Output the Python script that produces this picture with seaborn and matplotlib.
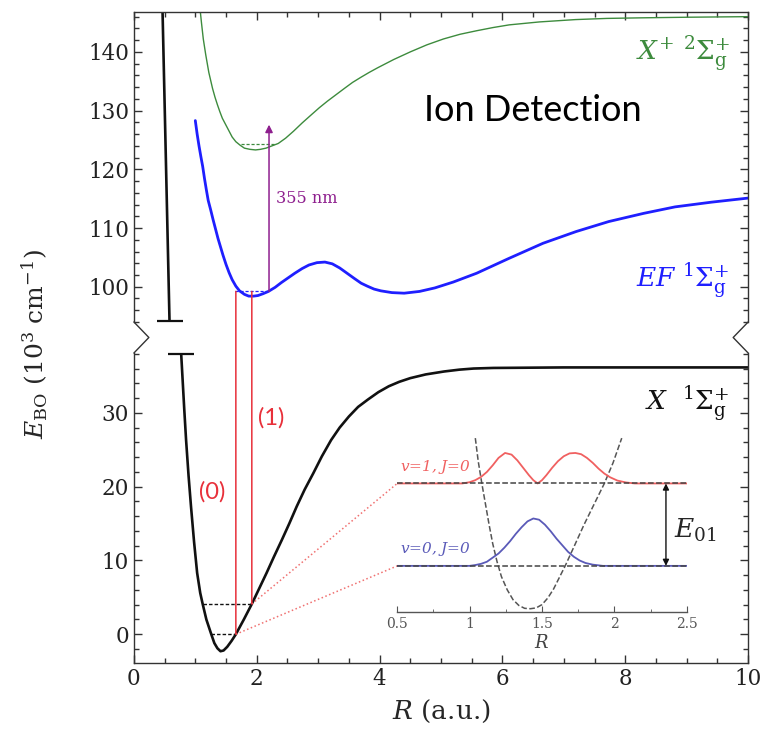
import numpy as np
import pandas as pd
import matplotlib
matplotlib.use("Agg")
import matplotlib.pyplot as plt
import seaborn as sns
from matplotlib.lines import Line2D
from matplotlib.patches import ConnectionPatch
from matplotlib.ticker import MultipleLocator

# --- potential curves (R in a.u., E in 10^3 cm^-1) ---
x_R = [0.77, 0.79, 0.82, 0.85, 0.89, 0.93, 0.98, 1.03, 1.08, 1.12, 1.18, 1.26, 1.31, 1.36,
       1.41, 1.46, 1.52, 1.59, 1.66, 1.79, 1.92, 2.04, 2.16, 2.28, 2.41, 2.53, 2.65, 2.78,
       2.92, 3.06, 3.21, 3.35, 3.50, 3.65, 3.81, 3.98, 4.15, 4.32, 4.50, 4.75, 5.05, 5.30,
       5.53, 5.85, 6.20, 7.00, 10.0]
x_E = [38.0, 35.0, 30.5, 26.3, 21.5, 17.3, 12.5, 8.3, 5.6, 4.1, 2.0, 0.0, -1.2, -1.9,
       -2.3, -2.2, -1.7, -0.9, 0.0, 2.0, 4.1, 6.2, 8.3, 10.5, 12.8, 15.0, 17.3, 19.6,
       21.8, 24.1, 26.3, 28.0, 29.5, 30.8, 31.8, 32.8, 33.6, 34.2, 34.7, 35.2, 35.6, 35.85,
       36.0, 36.08, 36.1, 36.15, 36.15]
wall_R = [0.46, 0.58]
wall_E = [150.0, 94.2]

ef_R = [1.00, 1.03, 1.06, 1.09, 1.12, 1.15, 1.18, 1.21, 1.25, 1.29, 1.33, 1.37, 1.41, 1.45,
        1.50, 1.55, 1.60, 1.66, 1.72, 1.80, 1.87, 1.95, 2.02, 2.10, 2.19, 2.30, 2.40, 2.51,
        2.62, 2.74, 2.85, 2.98, 3.11, 3.23, 3.35, 3.47, 3.59, 3.70, 3.80, 3.91, 4.02, 4.20,
        4.40, 4.65, 4.90, 5.20, 5.58, 6.10, 6.66, 7.20, 7.73, 8.30, 8.81, 9.40, 10.0]
ef_E = [128.3, 126.0, 124.0, 122.2, 120.5, 118.4, 116.5, 114.7, 113.1, 111.4, 109.8, 108.2,
        106.8, 105.4, 103.8, 102.4, 101.2, 100.1, 99.3, 98.7, 98.4, 98.4, 98.5, 98.8, 99.2,
        99.9, 100.7, 101.5, 102.3, 103.1, 103.7, 104.1, 104.2, 103.9, 103.2, 102.3, 101.4,
        100.6, 100.1, 99.6, 99.3, 99.0, 98.9, 99.2, 99.8, 100.8, 102.3, 104.8, 107.4, 109.4,
        111.1, 112.5, 113.6, 114.4, 115.1]

ion_R = [1.07, 1.10, 1.13, 1.17, 1.22, 1.28, 1.32, 1.36, 1.40, 1.44, 1.50, 1.55, 1.60, 1.66,
         1.73, 1.80, 1.89, 1.98, 2.06, 2.15, 2.25, 2.35, 2.47, 2.60, 2.74, 2.89, 3.02, 3.15,
         3.29, 3.43, 3.56, 3.70, 3.83, 3.97, 4.23, 4.50, 4.77, 5.04, 5.31, 5.58, 5.85, 6.11,
         6.60, 7.19, 7.70, 8.27, 9.00, 10.0]
ion_E = [148.0, 145.0, 142.2, 139.5, 136.5, 133.8, 132.3, 131.0, 129.8, 128.7, 127.5, 126.5,
         125.5, 124.7, 124.1, 123.6, 123.4, 123.3, 123.4, 123.6, 124.0, 124.4, 125.3, 126.5,
         127.9, 129.3, 130.5, 131.6, 132.7, 133.8, 134.8, 135.7, 136.5, 137.3, 138.7, 140.0,
         141.2, 142.2, 143.0, 143.6, 144.15, 144.6, 145.1, 145.5, 145.7, 145.8, 145.9, 146.0]

# vibrational levels
x_lvl_E = [0.0, 4.1]
x_lvl_R0 = [1.26, 1.12]
x_lvl_R1 = [1.66, 1.92]
ef_lvl = (1.65, 2.19, 99.2)
ion_lvl = (1.74, 2.30, 124.3)

# excitation lines (0) and (1), ionisation arrow
exc_R = [1.66, 1.92]
exc_E = [0.0, 4.1]
ion_arrow = (2.20, 99.2, 127.6)

# zoom guide lines to the inset
guide_end_R = 4.29
guide_end_E = [9.27, 20.45]

# --- inset: model potential and wavefunctions ---
pot_R = [1.04, 1.06, 1.085, 1.11, 1.135, 1.16, 1.19, 1.22, 1.26, 1.30, 1.34, 1.38, 1.42,
         1.46, 1.50, 1.54, 1.58, 1.62, 1.66, 1.72, 1.79, 1.86, 1.93, 1.99, 2.05]
pot_y = [1.55, 1.27, 1.00, 0.75, 0.50, 0.27, 0.05, -0.13, -0.29, -0.41, -0.48, -0.515, -0.52,
         -0.51, -0.47, -0.39, -0.28, -0.14, 0.00, 0.23, 0.50, 0.75, 1.00, 1.25, 1.55]
v0_R = [0.50, 1.00, 1.04, 1.08, 1.12, 1.16, 1.20, 1.24, 1.28, 1.32, 1.36, 1.40, 1.44, 1.48,
        1.52, 1.56, 1.60, 1.64, 1.68, 1.72, 1.76, 1.80, 1.85, 1.92, 2.50]
v0_y = [0.0, 0.0, 0.01, 0.025, 0.05, 0.10, 0.15, 0.22, 0.30, 0.39, 0.47, 0.54, 0.575, 0.56,
        0.50, 0.42, 0.33, 0.25, 0.17, 0.11, 0.065, 0.035, 0.015, 0.0, 0.0]
v1_R = [0.50, 0.95, 1.00, 1.04, 1.08, 1.12, 1.16, 1.20, 1.245, 1.29, 1.33, 1.37, 1.41, 1.44,
        1.47, 1.50, 1.53, 1.57, 1.61, 1.65, 1.69, 1.73, 1.77, 1.81, 1.85, 1.89, 1.93, 1.97,
        2.02, 2.08, 2.14, 2.50]
v1_y = [1.0, 1.0, 1.015, 1.04, 1.08, 1.14, 1.22, 1.31, 1.37, 1.35, 1.28, 1.19, 1.10, 1.04,
        1.0, 1.04, 1.10, 1.19, 1.27, 1.33, 1.365, 1.37, 1.355, 1.31, 1.25, 1.18, 1.12, 1.075,
        1.035, 1.012, 1.0, 1.0]

black = "#111111"
blue = "#1f1fff"
green = "#3d8b3d"
red = "#e8303a"
purple = "#8e1f8e"

sns.set_style("ticks")
plt.rcParams["font.family"] = ["DejaVu Serif"]
plt.rcParams["mathtext.fontset"] = "dejavuserif"
plt.rcParams["axes.edgecolor"] = "#333333"
plt.rcParams["axes.linewidth"] = 1.0

fig = plt.figure(figsize=(7.65, 7.47), dpi=100)
L, W = 0.175, 0.803
ax_top = fig.add_axes([L, 0.569, W, 0.415])
ax_bot = fig.add_axes([L, 0.1124, W, 0.415])

# curves
sns.lineplot(x=x_R, y=x_E, ax=ax_bot, color=black, lw=1.9, sort=False)
ax_bot.plot(x_R[:1], x_E[:1], marker="_", ms=19, mew=1.6, color=black, clip_on=False)
sns.lineplot(x=wall_R, y=wall_E, ax=ax_top, color=black, lw=1.9, sort=False)
ax_top.plot(wall_R[-1:], wall_E[-1:], marker="_", ms=19, mew=1.6, color=black, clip_on=False)
sns.lineplot(x=ef_R, y=ef_E, ax=ax_top, color=blue, lw=2.0, sort=False)
sns.lineplot(x=ion_R, y=ion_E, ax=ax_top, color=green, lw=1.0, sort=False)

# levels
for e, r0, r1 in zip(x_lvl_E, x_lvl_R0, x_lvl_R1):
    ax_bot.plot([r0, r1], [e, e], ls=(0, (2.5, 1.5)), color=black, lw=1.0)
ax_top.plot(ef_lvl[:2], [ef_lvl[2]] * 2, ls=(0, (2.5, 1.5)), color=blue, lw=0.9)
ax_top.plot(ion_lvl[:2], [ion_lvl[2]] * 2, ls=(0, (2.5, 1.5)), color=green, lw=0.9)

# excitation lines across the break
for r, e in zip(exc_R, exc_E):
    con = ConnectionPatch(xyA=(r, ef_lvl[2]), coordsA=ax_top.transData,
                          xyB=(r, e), coordsB=ax_bot.transData, color=red, lw=1.1)
    fig.add_artist(con)
ax_bot.text(1.27, 19.3, "(0)", color=red, fontsize=17, family="Lato", ha="center", va="center")
ax_bot.text(2.24, 29.3, "(1)", color=red, fontsize=17, family="Lato", ha="center", va="center")

# ionisation arrow
ax_top.annotate("", xy=(ion_arrow[0], ion_arrow[2]), xytext=(ion_arrow[0], ion_arrow[1]),
                arrowprops=dict(arrowstyle="-|>", color=purple, lw=1.1, mutation_scale=11,
                                shrinkA=0, shrinkB=0))
ax_top.text(2.32, 115.1, "355 nm", color=purple, fontsize=11.5, ha="left", va="center")

# guide lines to inset
for r, e, ee in zip(exc_R, exc_E, guide_end_E):
    ax_bot.plot([r, guide_end_R], [e, ee], ls=":", color="#f07070", lw=1.1)

# state labels
ax_top.text(9.7, 139.5, r"$X^{+}\ {}^{2}\Sigma^{+}_{\mathrm{g}}$", color=green, fontsize=19,
            ha="right", va="center")
ax_top.text(9.7, 101.0, r"$EF\ {}^{1}\Sigma^{+}_{\mathrm{g}}$", color=blue, fontsize=19,
            ha="right", va="center")
ax_bot.text(9.7, 31.2, r"$X\ \ {}^{1}\Sigma^{+}_{\mathrm{g}}$", color=black, fontsize=19,
            ha="right", va="center")
ax_top.text(6.5, 130.1, "Ion Detection", color="black", fontsize=26, family="Lato",
            ha="center", va="center")

# axes formatting
for ax in (ax_top, ax_bot):
    ax.set_xlim(0, 10)
    ax.xaxis.set_major_locator(MultipleLocator(2))
    ax.xaxis.set_minor_locator(MultipleLocator(0.5))
    ax.yaxis.set_major_locator(MultipleLocator(10))
    ax.yaxis.set_minor_locator(MultipleLocator(2))
    ax.tick_params(which="both", direction="in", left=True, right=True, width=1.0,
                   colors="#333333", labelsize=15.5, labelcolor="#222222")
    ax.tick_params(which="major", length=6)
    ax.tick_params(which="minor", length=3.5)
    ax.set_ylabel("")
ax_top.set_ylim(94.0, 146.8)
ax_bot.set_ylim(-3.9, 38.1)
ax_top.spines["bottom"].set_visible(False)
ax_bot.spines["top"].set_visible(False)
ax_top.tick_params(axis="x", which="both", top=True, bottom=False, labelbottom=False)
ax_bot.tick_params(axis="x", which="both", top=False, bottom=True)
ax_bot.set_xlabel(r"$R$ (a.u.)", fontsize=19, labelpad=6)
fig.text(0.046, 0.54, r"$E_{\rm BO}$ (10$^3$ cm$^{-1}$)", rotation=90, fontsize=18,
         ha="center", va="center")

# break marks on both spines
ytop = 0.569
ybot = 0.1124 + 0.415
ymid = (ytop + ybot) / 2
dx = 15 / 765
for x0, s in ((L, 1), (L + W, -1)):
    fig.add_artist(Line2D([x0, x0 + s * dx, x0], [ytop, ymid, ybot], color="#333333", lw=1.0,
                          transform=fig.transFigure))

# inset
axi = fig.add_axes([0.519, 0.1807, 0.379, 0.2383])
axi.set_facecolor("none")
sns.lineplot(x=pot_R, y=pot_y, ax=axi, color="#555555", lw=1.1, ls="--", sort=False)
sns.lineplot(x=v0_R, y=v0_y, ax=axi, color="#5a5ab8", lw=1.3, sort=False)
sns.lineplot(x=v1_R, y=v1_y, ax=axi, color="#f06060", lw=1.3, sort=False)
axi.plot([0.5, 2.5], [0, 0], ls="--", color="#444444", lw=1.1)
axi.plot([0.5, 2.5], [1, 1], ls="--", color="#444444", lw=1.1)
axi.annotate("", xy=(2.355, 1.0), xytext=(2.355, 0.0),
             arrowprops=dict(arrowstyle="<|-|>", color=black, lw=1.0, mutation_scale=9,
                             shrinkA=0, shrinkB=0))
axi.text(2.41, 0.43, r"$E_{01}$", fontsize=19, ha="left", va="center", clip_on=False)
axi.text(0.52, 1.2, r"$v$=1, $J$=0", color="#f06060", fontsize=11, style="italic",
         ha="left", va="center")
axi.text(0.52, 0.2, r"$v$=0, $J$=0", color="#5a5ab8", fontsize=11, style="italic",
         ha="left", va="center")
axi.set_xlim(0.5, 2.5)
axi.set_ylim(-0.56, 1.6)
for sp in ("left", "right", "top"):
    axi.spines[sp].set_visible(False)
axi.spines["bottom"].set_color("#555555")
axi.set_yticks([])
axi.xaxis.set_major_locator(MultipleLocator(0.5))
axi.xaxis.set_minor_locator(MultipleLocator(0.25))
axi.set_xticks([0.5, 1, 1.5, 2, 2.5], ["0.5", "1", "1.5", "2", "2.5"])
axi.tick_params(which="both", direction="in", colors="#555555", labelsize=10)
axi.tick_params(which="major", length=4)
axi.tick_params(which="minor", length=2)
axi.set_xlabel(r"$R$", fontsize=13, color="#444444", labelpad=2)
axi.set_ylabel("")

fig.savefig("out.png", dpi=100)
